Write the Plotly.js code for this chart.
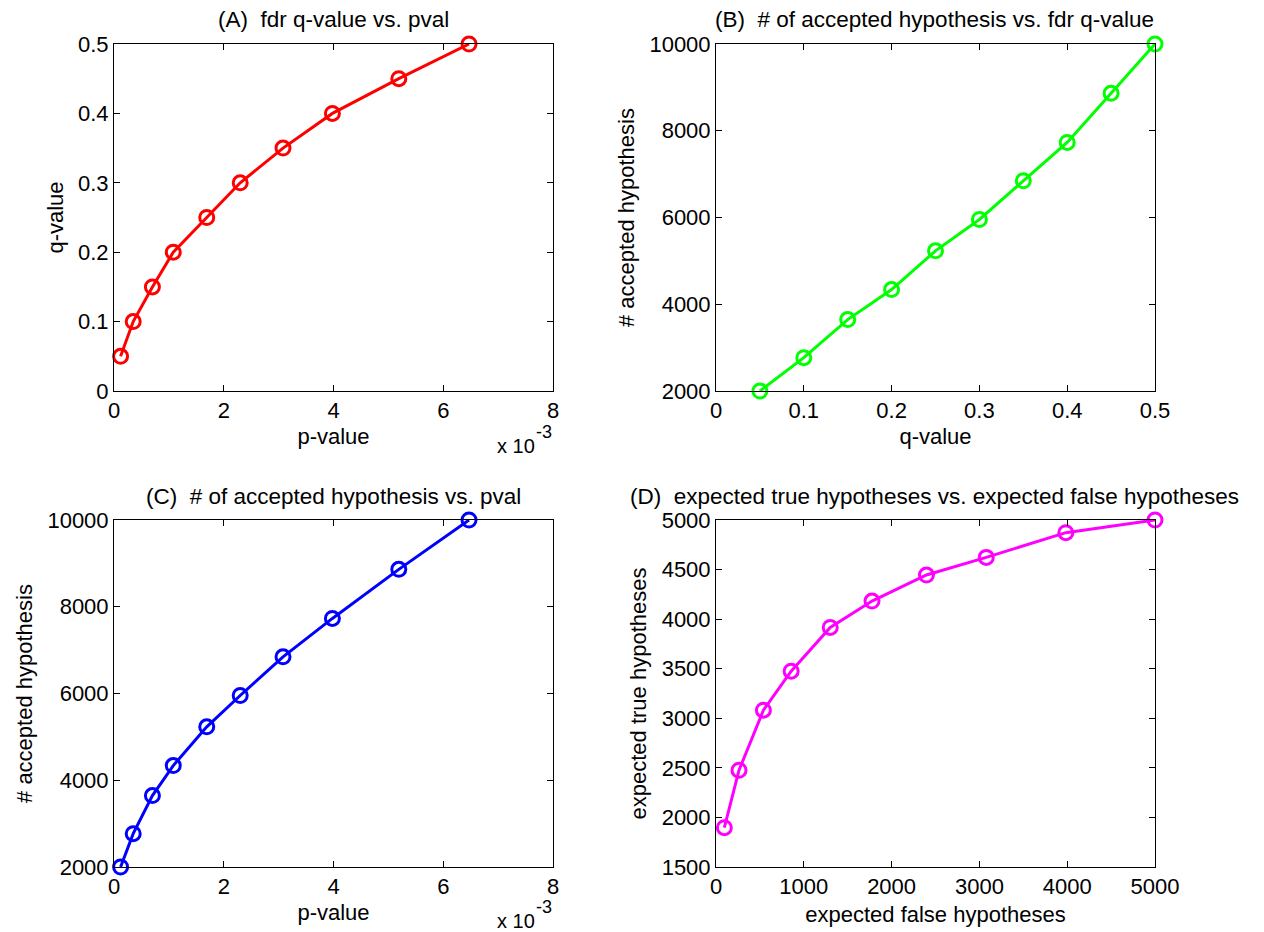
<!DOCTYPE html>
<html>
<head>
<meta charset="utf-8">
<script src="https://cdn.plot.ly/plotly-3.0.1.min.js"></script>
<style>html,body{margin:0;padding:0;background:#fff;}#chart{width:1264px;height:932px;}</style>
</head>
<body>
<div id="chart"></div>
<script>
// p-values in units of 10^-3
const pValues = [0.12, 0.35, 0.70, 1.08, 1.69, 2.30, 3.08, 3.98, 5.19, 6.47];
const qValues = [0.05, 0.10, 0.15, 0.20, 0.25, 0.30, 0.35, 0.40, 0.45, 0.50];
const acceptedHyp = [2000, 2769, 3646, 4338, 5231, 5954, 6846, 7731, 8862, 10000];
const expectedFalse = [95, 262, 540, 856, 1301, 1777, 2397, 3078, 3984, 5000];
const expectedTrue = [1897, 2476, 3082, 3475, 3916, 4182, 4445, 4623, 4872, 5000];

const FONT = {family: 'Liberation Sans, Arial, Helvetica, sans-serif', size: 22, color: '#000'};

function trace(x, y, color, xa, ya) {
  return {
    x: x, y: y, xaxis: xa, yaxis: ya, type: 'scatter', mode: 'lines+markers',
    line: {color: color, width: 3},
    marker: {symbol: 'circle-open', size: 14, color: color, line: {color: color, width: 3}},
    cliponaxis: false, showlegend: false, hoverinfo: 'x+y'
  };
}

function axis(domain, range, dtick, title, anchor, standoff) {
  return {
    domain: domain, range: range, dtick: dtick, tick0: range[0], anchor: anchor,
    showgrid: false, zeroline: false, showline: true, mirror: 'ticks',
    linecolor: '#000', linewidth: 1, ticks: 'inside', ticklen: 6, tickwidth: 1, tickcolor: '#000',
    tickfont: FONT, tickformat: dtick >= 1 ? 'd' : '', separatethousands: false,
    title: {text: title, font: FONT, standoff: standoff}, fixedrange: true
  };
}

const data = [
  trace(pValues, qValues, '#ff0000', 'x', 'y'),
  trace(qValues, acceptedHyp, '#00ff00', 'x2', 'y2'),
  trace(pValues, acceptedHyp, '#0000ff', 'x3', 'y3'),
  trace(expectedFalse, expectedTrue, '#ff00ff', 'x4', 'y4')
];

const dxL = [114/1264, 553/1264];
const dxR = [716/1264, 1155/1264];
const dyT = [1 - 391/932, 1 - 44/932];
const dyB = [1 - 867/932, 1 - 520/932];

function ann(text, x, y, xanchor, size) {
  return {text: text, xref: 'paper', yref: 'paper', x: x/1264, y: 1 - y/932,
          xanchor: xanchor, yanchor: 'middle', showarrow: false,
          font: Object.assign({}, FONT, {size: size || FONT.size})};
}

const layout = {
  width: 1264, height: 932,
  margin: {l: 0, r: 0, t: 0, b: 0},
  paper_bgcolor: '#fff', plot_bgcolor: '#fff',
  font: FONT,
  showlegend: false,
  xaxis: axis(dxL, [0, 8], 2, 'p-value', 'y', 6),
  yaxis: axis(dyT, [0, 0.5], 0.1, 'q-value', 'x', 8),
  xaxis2: axis(dxR, [0, 0.5], 0.1, 'q-value', 'y2', 6),
  yaxis2: axis(dyT, [2000, 10000], 2000, '# accepted hypothesis', 'x2', 8),
  xaxis3: axis(dxL, [0, 8], 2, 'p-value', 'y3', 6),
  yaxis3: axis(dyB, [2000, 10000], 2000, '# accepted hypothesis', 'x3', 8),
  xaxis4: axis(dxR, [0, 5000], 1000, 'expected false hypotheses', 'y4', 8),
  yaxis4: axis(dyB, [1500, 5000], 500, 'expected true hypotheses', 'x4', 8),
  annotations: [
    ann('(A)&nbsp; fdr q-value vs. pval', 333, 19, 'center', 22.5),
    ann('(B)&nbsp; # of accepted hypothesis vs. fdr q-value', 935, 19, 'center', 22.5),
    ann('(C)&nbsp; # of accepted hypothesis vs. pval', 333, 496, 'center', 22.5),
    ann('(D)&nbsp; expected true hypotheses vs. expected false hypotheses', 935, 496, 'center', 22.5),
    ann('x 10', 495, 446, 'left', 20),
    ann('-3', 534, 432, 'left', 18),
    ann('x 10', 495, 921, 'left', 20),
    ann('-3', 534, 907, 'left', 18)
  ]
};

Plotly.newPlot('chart', data, layout, {displayModeBar: false});
</script>
</body>
</html>
